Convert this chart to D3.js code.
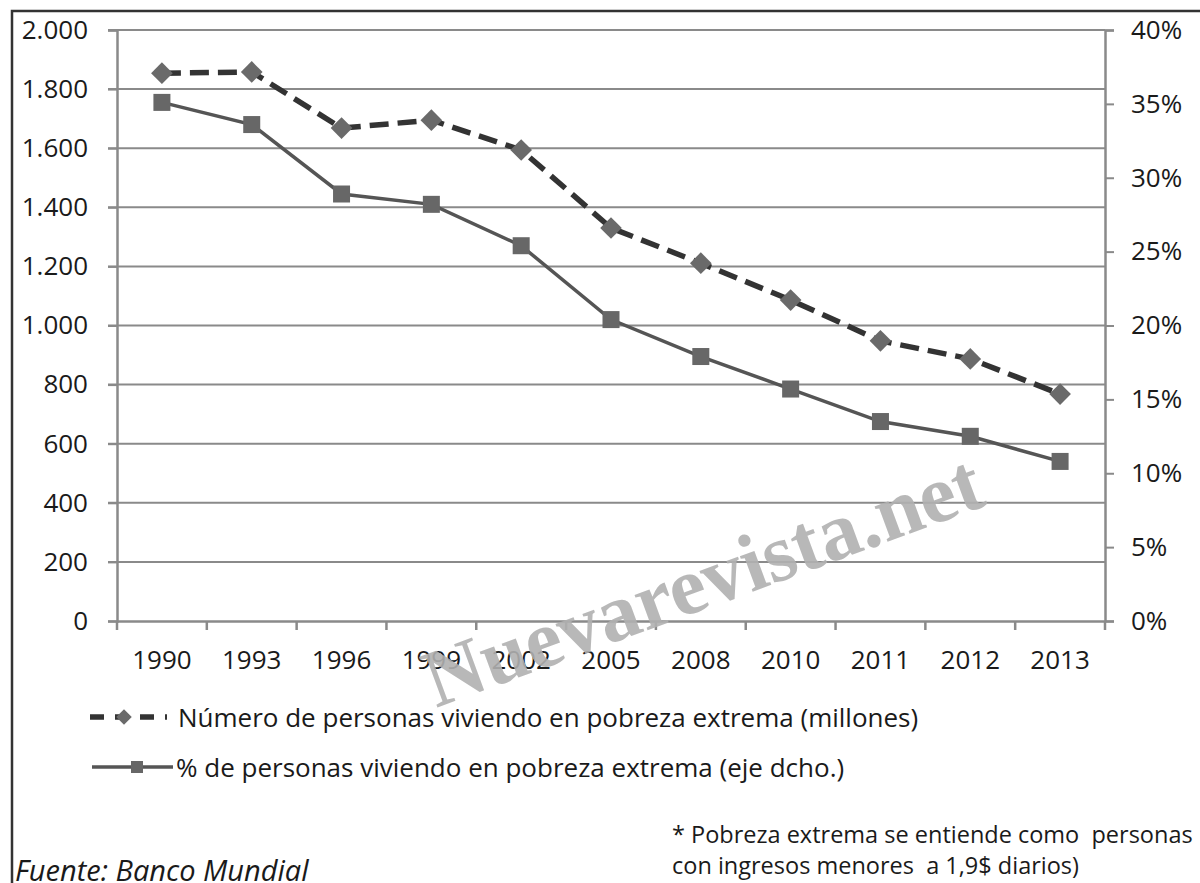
<!DOCTYPE html>
<html><head><meta charset="utf-8">
<script src="https://cdn.jsdelivr.net/npm/d3@7"></script>
<style>body{margin:0;background:#fff}svg{display:block}</style>
</head><body>
<script>
const years = ["1990","1993","1996","1999","2002","2005","2008","2010","2011","2012","2013"];
const personasMillones = [1854,1858,1668,1695,1594,1330,1211,1086,948,887,768];
const porcentaje = [35.1,33.6,28.9,28.2,25.4,20.4,17.9,15.7,13.5,12.5,10.8];
const leftTicks = [0,200,400,600,800,1000,1200,1400,1600,1800,2000];
const rightTicks = [0,5,10,15,20,25,30,35,40];
const legendLabels = ["Número de personas viviendo en pobreza extrema (millones)","% de personas viviendo en pobreza extrema (eje dcho.)"];

const W=1200,H=883;
const svg=d3.select("body").append("svg").attr("width",W).attr("height",H);
const font="'Open Sans', sans-serif";
const fs=26;

// border
svg.append("path").attr("d",`M12,${H} L12,11 L${W},11`).attr("fill","none").attr("stroke","#333").attr("stroke-width",2.5);

const x=d3.scaleBand().domain(years).range([117,1105]);
const yL=d3.scaleLinear().domain([0,2000]).range([621,30]);
const yR=d3.scaleLinear().domain([0,40]).range([621,30]);

// gridlines
svg.append("g").selectAll("line").data(leftTicks.slice(1)).join("line")
 .attr("x1",108).attr("x2",1105).attr("y1",d=>yL(d)).attr("y2",d=>yL(d))
 .attr("stroke","#8a8a8a").attr("stroke-width",2);

// left axis
const gL=svg.append("g").attr("transform","translate(117,0)")
 .call(d3.axisLeft(yL).tickValues(leftTicks).tickSize(9).tickPadding(20).tickFormat(d=>d3.format(",")(d).replace(/,/g,".")));
gL.select(".domain").attr("stroke","#8a8a8a").attr("stroke-width",2.5);
gL.selectAll(".tick line").attr("stroke","#8a8a8a").attr("stroke-width",2);
gL.selectAll("text").attr("font-family",font).attr("font-size",fs).attr("fill","#1a1a1a");

// right axis
const gR=svg.append("g").attr("transform","translate(1105,0)")
 .call(d3.axisRight(yR).tickValues(rightTicks).tickSize(9).tickPadding(17).tickFormat(d=>d+"%"));
gR.select(".domain").attr("stroke","#8a8a8a").attr("stroke-width",2.5);
gR.selectAll(".tick line").attr("stroke","#8a8a8a").attr("stroke-width",2);
gR.selectAll("text").attr("font-family",font).attr("font-size",fs).attr("fill","#1a1a1a");

// bottom axis
const gB=svg.append("g").attr("transform","translate(0,621)").call(d3.axisBottom(x).tickSize(0).tickPadding(30));
gB.select(".domain").attr("stroke","#8a8a8a").attr("stroke-width",2.5);
gB.selectAll("text").attr("font-family",font).attr("font-size",fs).attr("fill","#1a1a1a");
const bounds=years.map(y=>x(y)).concat([x.range()[1]]);
svg.append("g").selectAll("line").data(bounds).join("line")
 .attr("x1",d=>d).attr("x2",d=>d).attr("y1",621).attr("y2",630)
 .attr("stroke","#8a8a8a").attr("stroke-width",2.5);

const cx=d=>x(d)+x.bandwidth()/2;
// solid series
svg.append("path").datum(years).attr("fill","none").attr("stroke","#555").attr("stroke-width",3.5)
 .attr("d",d3.line().x(cx).y((d,i)=>yR(porcentaje[i])));
svg.append("g").selectAll("rect").data(years).join("rect")
 .attr("x",d=>cx(d)-8.5).attr("y",(d,i)=>yR(porcentaje[i])-8.5).attr("width",17).attr("height",17)
 .attr("fill","#676767");
// dashed series
svg.append("path").datum(years).attr("fill","none").attr("stroke","#333").attr("stroke-width",5.5)
 .attr("stroke-dasharray","19,9")
 .attr("d",d3.line().x(cx).y((d,i)=>yL(personasMillones[i])));
const diamond=d3.symbol().type(d3.symbolSquare).size(235);
svg.append("g").selectAll("path").data(years).join("path")
 .attr("d",diamond).attr("transform",(d,i)=>`translate(${cx(d)},${yL(personasMillones[i])}) rotate(45)`)
 .attr("fill","#6a6a6a");

// legend
const lg=svg.append("g");
lg.append("line").attr("x1",90).attr("x2",167).attr("y1",717).attr("y2",717).attr("stroke","#333").attr("stroke-width",5.5).attr("stroke-dasharray","14,11");
lg.append("path").attr("d",d3.symbol().type(d3.symbolSquare).size(120)).attr("transform","translate(124,717) rotate(45)").attr("fill","#6a6a6a");
lg.append("text").attr("x",178).attr("y",727).text(legendLabels[0]);
lg.append("line").attr("x1",92).attr("x2",173).attr("y1",767).attr("y2",767).attr("stroke","#555").attr("stroke-width",3.5);
lg.append("rect").attr("x",131).attr("y",761).attr("width",12).attr("height",12).attr("fill","#676767");
lg.append("text").attr("x",176).attr("y",777).text(legendLabels[1]);
lg.selectAll("text").attr("font-family",font).attr("font-size",fs).attr("fill","#1a1a1a");

// footnote
const fn=svg.append("g").attr("font-family",font).attr("font-size",23.5).attr("fill","#1a1a1a");
fn.append("text").attr("x",672).attr("y",843).style("white-space","pre").text("* Pobreza extrema se entiende como  personas");
fn.append("text").attr("x",672).attr("y",874).style("white-space","pre").text("con ingresos menores  a 1,9$ diarios)");
svg.append("text").attr("x",15).attr("y",881).attr("font-family",font).attr("font-style","italic").attr("font-size",29).attr("fill","#1a1a1a").text("Fuente: Banco Mundial");

// watermark
svg.append("text").attr("transform","translate(436,708) rotate(-20.2)")
 .attr("font-family","'Liberation Serif', serif").attr("font-weight","bold").attr("font-size",82)
 .attr("fill","#b0b0b0").attr("fill-opacity",0.9).text("Nuevarevista.net");
</script>
</body></html>
